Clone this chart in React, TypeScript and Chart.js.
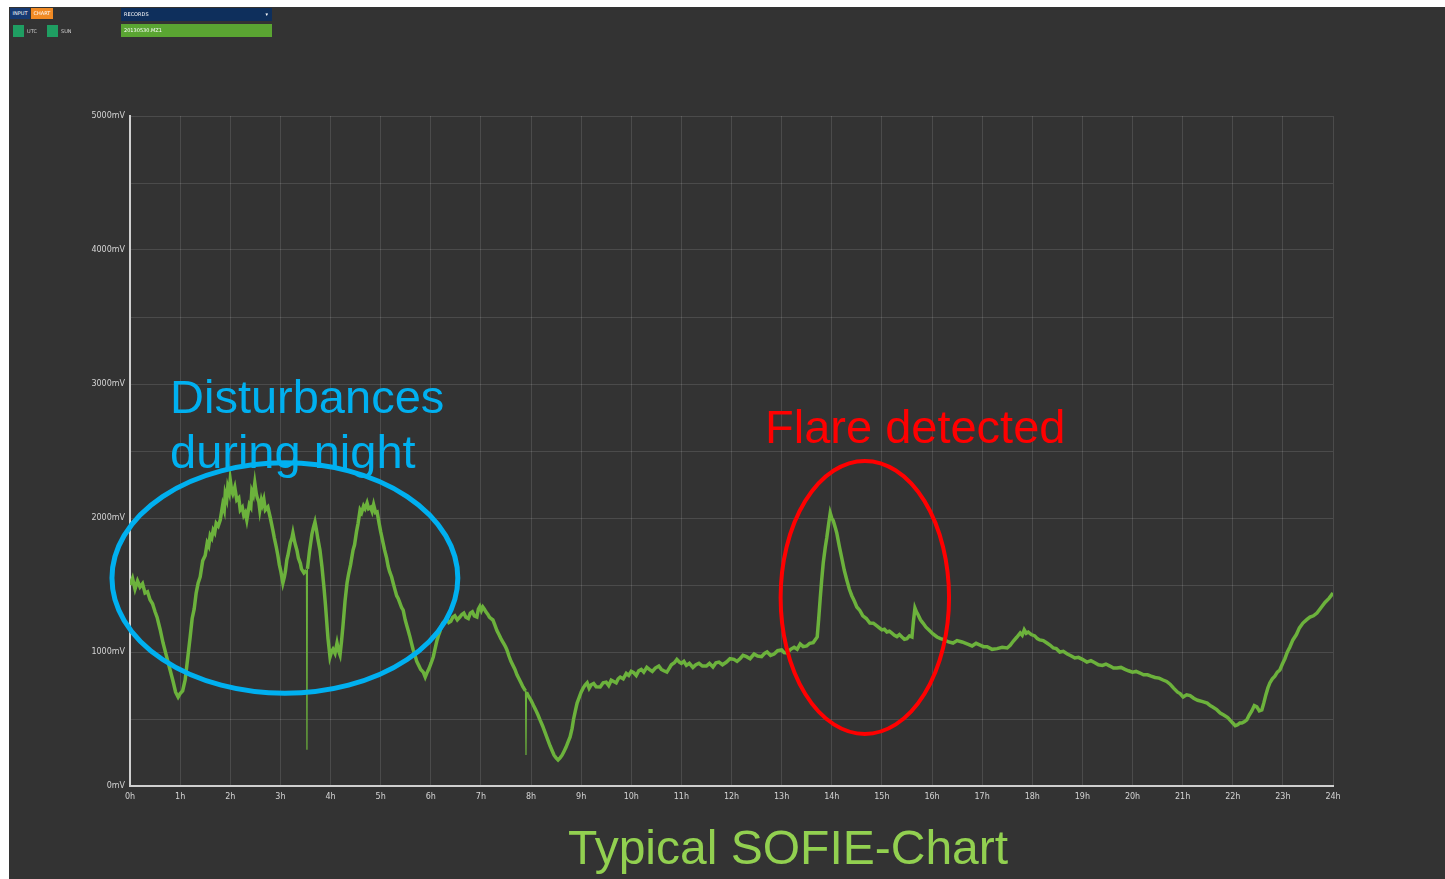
import React, { useEffect, useRef } from "react";
import { Chart, registerables } from "chart.js";

Chart.register(...registerables);

// Readings: [hour of day, millivolts]
const nightSegment: [number, number][] = [
  [0, 1500], [0.05, 1550], [0.1, 1470], [0.15, 1530], [0.2, 1485], [0.25, 1510], [0.3, 1440], [0.35, 1450],
  [0.4, 1390], [0.45, 1360], [0.5, 1300], [0.54, 1260], [0.6, 1170], [0.66, 1067], [0.72, 980], [0.8, 866],
  [0.86, 780], [0.91, 700], [0.96, 664], [1.0, 690], [1.05, 710], [1.1, 791], [1.15, 950], [1.2, 1112],
  [1.24, 1250], [1.28, 1320], [1.32, 1440], [1.36, 1515], [1.4, 1560], [1.45, 1680], [1.5, 1720], [1.54, 1813],
  [1.57, 1790], [1.6, 1870], [1.63, 1850], [1.66, 1910], [1.69, 1890], [1.72, 1960], [1.76, 1940], [1.8, 1985],
  [1.85, 2100], [1.88, 2060], [1.9, 2180], [1.93, 2140], [1.95, 2230], [1.98, 2190], [2.0, 2284], [2.03, 2200],
  [2.05, 2180], [2.09, 2230], [2.13, 2134], [2.17, 2150], [2.2, 2060], [2.24, 2080], [2.27, 2020], [2.3, 2040],
  [2.33, 1985], [2.38, 2100], [2.41, 2080], [2.43, 2200], [2.46, 2170], [2.49, 2261], [2.52, 2180], [2.54, 2150],
  [2.57, 2120], [2.59, 2060], [2.62, 2130], [2.64, 2100], [2.67, 2140], [2.7, 2060], [2.75, 2082], [2.8, 2000],
  [2.85, 1910], [2.88, 1850], [2.92, 1780], [2.95, 1720], [2.98, 1650], [3.01, 1600], [3.05, 1515], [3.08, 1560],
  [3.1, 1600], [3.13, 1690], [3.15, 1720], [3.18, 1780], [3.2, 1820], [3.23, 1850], [3.25, 1888], [3.28, 1830],
  [3.3, 1800], [3.33, 1760], [3.36, 1700], [3.4, 1660], [3.42, 1620], [3.47, 1590], [3.52, 1610], [3.53, 270],
  [3.54, 1620], [3.58, 1750], [3.63, 1880], [3.66, 1930], [3.69, 1970], [3.72, 1910], [3.75, 1840], [3.79, 1760],
  [3.83, 1634], [3.87, 1480], [3.9, 1350], [3.95, 1100], [3.99, 963], [4.02, 1000], [4.05, 1020], [4.09, 990],
  [4.13, 1067], [4.16, 1010], [4.19, 978], [4.22, 1080], [4.25, 1200], [4.29, 1380], [4.33, 1515], [4.36, 1580],
  [4.4, 1650], [4.45, 1761], [4.48, 1800], [4.52, 1900], [4.55, 1960], [4.59, 2060], [4.62, 2040], [4.66, 2090],
  [4.69, 2070], [4.73, 2112], [4.76, 2070], [4.8, 2080], [4.83, 2050], [4.86, 2100], [4.9, 2040], [4.93, 2045],
  [4.97, 1960], [5.0, 1900], [5.05, 1813], [5.08, 1760], [5.12, 1700], [5.15, 1640], [5.18, 1600], [5.22, 1560],
  [5.25, 1515], [5.29, 1460], [5.32, 1420], [5.35, 1400], [5.38, 1370], [5.42, 1330], [5.45, 1313], [5.49, 1240],
  [5.52, 1200], [5.55, 1160], [5.58, 1120], [5.62, 1060], [5.65, 1015], [5.69, 970], [5.72, 930], [5.76, 900],
  [5.8, 870], [5.85, 850], [5.89, 813], [5.93, 850], [5.97, 880], [6.01, 920], [6.05, 963],
];

const morningSegment: [number, number][] = [
  [6.09, 1030], [6.12, 1080], [6.15, 1120], [6.18, 1150], [6.21, 1190], [6.24, 1216], [6.28, 1230], [6.32, 1250],
  [6.36, 1220], [6.4, 1230], [6.44, 1260], [6.48, 1270], [6.53, 1240], [6.58, 1261], [6.62, 1280], [6.66, 1290],
  [6.7, 1260], [6.75, 1250], [6.79, 1290], [6.83, 1300], [6.87, 1270], [6.92, 1261], [6.95, 1320], [6.98, 1340],
  [7.01, 1310], [7.04, 1336], [7.07, 1320], [7.1, 1300], [7.14, 1280], [7.17, 1260], [7.2, 1250], [7.24, 1239],
  [7.28, 1200], [7.32, 1160], [7.36, 1130], [7.4, 1100], [7.43, 1080], [7.46, 1060], [7.49, 1040], [7.52, 1015],
  [7.56, 970], [7.6, 930], [7.64, 900], [7.68, 870], [7.72, 830], [7.76, 800], [7.8, 770], [7.84, 739],
  [7.89, 710], [7.9, 231], [7.91, 700], [7.95, 670], [8.0, 640], [8.05, 600], [8.09, 570], [8.14, 530],
  [8.18, 493], [8.23, 450], [8.28, 400], [8.33, 350], [8.38, 300], [8.42, 265], [8.46, 230], [8.5, 210],
  [8.54, 194], [8.58, 210], [8.62, 230], [8.66, 260], [8.7, 290], [8.74, 330], [8.78, 366], [8.82, 430],
  [8.85, 500], [8.89, 570], [8.92, 619], [8.96, 660], [9.0, 700], [9.04, 730], [9.08, 754], [9.12, 770],
  [9.16, 730], [9.2, 755], [9.25, 765], [9.3, 740], [9.38, 739], [9.44, 770], [9.5, 775], [9.55, 750],
  [9.6, 790], [9.65, 780], [9.7, 770], [9.74, 800], [9.78, 813], [9.84, 800], [9.9, 840], [9.95, 825],
  [10.0, 855], [10.05, 845], [10.1, 825], [10.15, 860], [10.2, 870], [10.25, 850], [10.31, 885], [10.36, 870],
  [10.42, 855], [10.48, 880], [10.55, 895], [10.6, 870], [10.65, 860], [10.71, 850], [10.76, 880], [10.8, 905],
  [10.86, 920], [10.91, 945], [10.96, 925], [11.0, 915], [11.05, 930], [11.1, 900], [11.16, 915], [11.23, 885],
  [11.29, 905], [11.35, 915], [11.42, 895], [11.5, 895], [11.56, 915], [11.63, 888], [11.69, 920], [11.75, 925],
  [11.82, 905], [11.9, 925], [11.97, 950], [12.05, 945], [12.11, 930], [12.17, 950], [12.23, 975], [12.3, 965],
  [12.37, 950], [12.45, 985], [12.52, 970], [12.6, 965], [12.66, 990], [12.71, 1000], [12.78, 975], [12.85, 985],
  [12.92, 1010], [13.0, 1015], [13.05, 995], [13.11, 993], [13.18, 1020], [13.25, 1035], [13.31, 1020], [13.37, 1060],
  [13.43, 1040], [13.5, 1045], [13.56, 1065], [13.63, 1070],
];

const flareSegment: [number, number][] = [
  [13.71, 1112], [13.74, 1250], [13.77, 1400], [13.8, 1540], [13.83, 1664], [13.87, 1780], [13.9, 1850], [13.94, 1960],
  [13.97, 2037], [14.0, 2000], [14.03, 1980], [14.07, 1930], [14.1, 1888], [14.15, 1790], [14.2, 1700], [14.25, 1610],
  [14.3, 1537], [14.35, 1470], [14.4, 1420], [14.45, 1380], [14.5, 1336], [14.56, 1310], [14.62, 1270], [14.69, 1250],
  [14.76, 1216], [14.83, 1215], [14.9, 1195], [14.95, 1180], [15.0, 1165], [15.05, 1170], [15.1, 1149], [15.15, 1155],
  [15.2, 1140], [15.25, 1125], [15.3, 1115], [15.35, 1130], [15.4, 1112], [15.45, 1095], [15.5, 1100], [15.55, 1120],
  [15.6, 1112], [15.63, 1230], [15.66, 1328], [15.69, 1300], [15.72, 1280], [15.77, 1240], [15.82, 1216], [15.88, 1185],
  [15.95, 1160], [16.02, 1135], [16.1, 1112], [16.17, 1100], [16.25, 1090], [16.33, 1075], [16.42, 1067], [16.5, 1085],
  [16.6, 1075], [16.7, 1060], [16.8, 1045], [16.88, 1065], [16.96, 1052], [17.03, 1040], [17.1, 1040], [17.2, 1020],
  [17.3, 1025], [17.4, 1035], [17.5, 1030],
];

const eveningSegment: [number, number][] = [
  [17.56, 1050], [17.62, 1080], [17.69, 1110], [17.76, 1142], [17.8, 1125], [17.84, 1165], [17.88, 1140], [17.92, 1149],
  [17.98, 1130], [18.05, 1120], [18.1, 1100], [18.15, 1090], [18.22, 1085], [18.3, 1065], [18.36, 1050], [18.42, 1030],
  [18.48, 1025], [18.55, 1000], [18.62, 1005], [18.7, 985], [18.78, 970], [18.85, 955], [18.92, 960], [19.0, 945],
  [19.09, 925], [19.17, 935], [19.25, 920], [19.32, 905], [19.4, 900], [19.47, 910], [19.55, 895], [19.62, 880],
  [19.69, 880], [19.77, 885], [19.85, 870], [19.92, 860], [20.0, 850], [20.07, 855], [20.15, 843], [20.22, 830],
  [20.3, 830], [20.37, 820], [20.45, 810], [20.53, 805], [20.61, 791], [20.68, 780], [20.75, 760], [20.82, 730],
  [20.9, 700], [20.95, 690], [21.01, 664], [21.08, 680], [21.15, 675], [21.22, 655], [21.3, 640], [21.4, 630],
  [21.49, 619], [21.55, 600], [21.6, 590], [21.68, 570], [21.75, 545], [21.82, 530], [21.9, 510], [21.95, 490],
  [22.0, 470], [22.05, 450], [22.09, 455], [22.14, 470], [22.18, 470], [22.23, 480], [22.28, 493], [22.33, 530],
  [22.38, 560], [22.43, 600], [22.48, 590], [22.53, 560], [22.58, 567], [22.62, 620], [22.66, 680], [22.7, 730],
  [22.74, 769], [22.79, 800], [22.84, 820], [22.89, 850], [22.94, 866], [22.99, 910], [23.04, 950], [23.09, 1000],
  [23.14, 1037], [23.2, 1090], [23.27, 1130], [23.33, 1180], [23.4, 1216], [23.47, 1240], [23.54, 1260], [23.61, 1270],
  [23.68, 1291], [23.76, 1330], [23.84, 1370], [23.92, 1400], [24.0, 1440],
];

const readings = [...nightSegment, ...morningSegment, ...flareSegment, ...eveningSegment];

const hourTicksSuffix = "h";
const mvTicksSuffix = "mV";

// Annotation ellipses in data units (centre hour/mV, radius hours/mV)
const noteEllipses = [
  { h: 3.09, mv: 1552, rh: 3.45, rmv: 860, color: "#00b0f0", width: 5 },
  { h: 14.66, mv: 1407, rh: 1.68, rmv: 1019, color: "#ff0000", width: 4 },
];

const noteTexts = [
  { text: "Disturbances", color: "#00b0f0" },
  { text: "during night", color: "#00b0f0" },
  { text: "Flare detected", color: "#ff0000" },
  { text: "Typical SOFIE-Chart", color: "#92d050" },
];
const notePositions = [
  [161, 406],
  [161, 461],
  [756, 436],
  [559, 857],
];

const notesPlugin = {
  id: "sofieNotes",
  afterDatasetsDraw(chart: any) {
    const { ctx, scales } = chart;
    const x = scales.x;
    const y = scales.y;
    ctx.save();
    ctx.textBaseline = "alphabetic";
    ctx.textAlign = "left";
    noteTexts.forEach((t, i) => {
      ctx.font = i === 3 ? "48px 'Liberation Sans', Arial, sans-serif" : "47px 'Liberation Sans', Arial, sans-serif";
      ctx.fillStyle = t.color;
      ctx.fillText(t.text, notePositions[i][0], notePositions[i][1]);
    });
    noteEllipses.forEach((e) => {
      const cx = x.getPixelForValue(e.h);
      const cy = y.getPixelForValue(e.mv);
      const rx = x.getPixelForValue(e.h + e.rh) - cx;
      const ry = cy - y.getPixelForValue(e.mv + e.rmv);
      ctx.beginPath();
      ctx.ellipse(cx, cy, rx, ry, 0, 0, Math.PI * 2);
      ctx.lineWidth = e.width;
      ctx.strokeStyle = e.color;
      ctx.stroke();
    });
    ctx.restore();
  },
};

const tickFont = { size: 8, family: "'DejaVu Sans', sans-serif" };

export default function App() {
  const canvasRef = useRef<HTMLCanvasElement | null>(null);

  useEffect(() => {
    if (!canvasRef.current) return;
    const points = readings.map(([h, v]) => ({ x: h, y: v }));
    const chart = new Chart(canvasRef.current, {
      type: "line",
      data: {
        datasets: [
          {
            data: points,
            borderColor: "#6cb23c",
            borderWidth: 3.5,
            pointRadius: 0,
            tension: 0,
            borderJoinStyle: "miter",
            segment: {
              borderWidth: (c: any) => (Math.abs(c.p1.parsed.x - c.p0.parsed.x) < 0.015 ? 1.2 : 3.5),
            },
          },
        ],
      },
      options: {
        responsive: false,
        animation: false,
        devicePixelRatio: 1,
        layout: { padding: { top: 109, right: 112, left: 0, bottom: 0 } },
        plugins: { legend: { display: false }, tooltip: { enabled: false }, title: { display: false } },
        scales: {
          x: {
            type: "linear",
            min: 0,
            max: 24,
            ticks: {
              stepSize: 1,
              autoSkip: false,
              maxRotation: 0,
              padding: 6,
              color: "#d4d4d4",
              font: tickFont,
              callback: (v: any) => `${v}${hourTicksSuffix}`,
            },
            grid: { color: "rgba(255,255,255,0.12)", drawTicks: false, lineWidth: 1 },
            border: { color: "#d0d0d0", width: 2 },
            afterFit: (s: any) => {
              s.height = 93;
            },
          },
          y: {
            min: 0,
            max: 5000,
            ticks: {
              stepSize: 500,
              padding: 5,
              color: "#d4d4d4",
              font: tickFont,
              callback: (v: any) => (Number(v) % 1000 === 0 ? `${v}${mvTicksSuffix}` : ""),
            },
            grid: { color: "rgba(255,255,255,0.12)", drawTicks: false, lineWidth: 1 },
            border: { color: "#d0d0d0", width: 2 },
            afterFit: (s: any) => {
              s.width = 121;
            },
          },
        },
      },
      plugins: [notesPlugin],
    } as any);
    return () => chart.destroy();
  }, []);

  const tiny: React.CSSProperties = {
    position: "absolute",
    fontFamily: "'DejaVu Sans', sans-serif",
    fontSize: 5,
    color: "#ffffff",
    lineHeight: "11px",
    whiteSpace: "nowrap",
  };

  return (
    <div
      style={{
        position: "fixed",
        left: 9,
        top: 7,
        width: 1436,
        height: 872,
        background: "#333333",
        overflow: "hidden",
      }}
    >
      <canvas ref={canvasRef} width={1436} height={872} style={{ display: "block" }} />
      <div style={{ ...tiny, left: 1, top: 1, width: 20, height: 11, background: "#163a72", textAlign: "center" }}>INPUT</div>
      <div style={{ ...tiny, left: 22, top: 1, width: 22, height: 11, background: "#f08a24", textAlign: "center" }}>CHART</div>
      <div style={{ position: "absolute", left: 4, top: 18, width: 11, height: 12, background: "#1f9e62" }} />
      <div style={{ ...tiny, left: 18, top: 19, color: "#cfcfcf" }}>UTC</div>
      <div style={{ position: "absolute", left: 38, top: 18, width: 11, height: 12, background: "#1f9e62" }} />
      <div style={{ ...tiny, left: 52, top: 19, color: "#cfcfcf" }}>SUN</div>
      <div style={{ ...tiny, left: 112, top: 1, width: 151, height: 13, background: "#0e2f5c", lineHeight: "13px" }}>
        <span style={{ marginLeft: 3 }}>RECORDS</span>
        <span style={{ position: "absolute", right: 4 }}>▾</span>
      </div>
      <div style={{ ...tiny, left: 112, top: 17, width: 151, height: 13, background: "#5aa532", lineHeight: "13px" }}>
        <span style={{ marginLeft: 3 }}>20130530.MZ1</span>
      </div>
    </div>
  );
}
